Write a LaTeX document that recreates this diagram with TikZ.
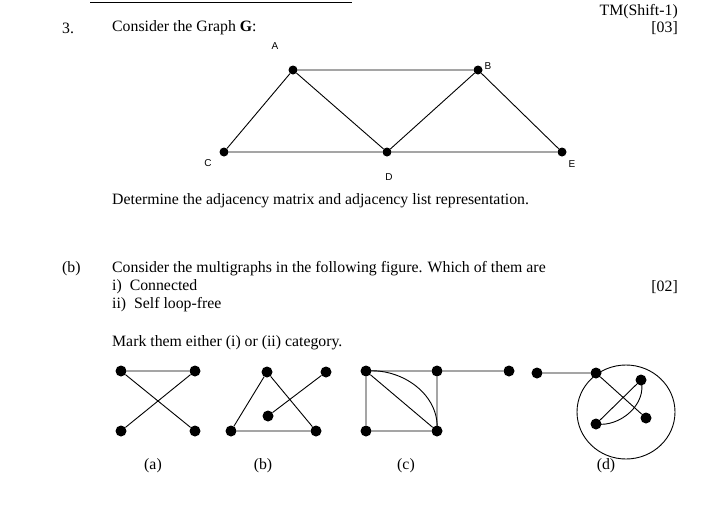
\documentclass[tikz,border=0pt]{standalone}
\usepackage{fontspec}
\usetikzlibrary{shapes.geometric}
\setmainfont{Liberation Serif}
\newfontfamily\lab{Liberation Sans}
\begin{document}
\begin{tikzpicture}[x=1pt,y=-1pt,
 dot/.style={circle,fill=black,inner sep=0pt,minimum size=11pt},
 vd/.style={circle,fill=black,inner sep=0pt,minimum size=9pt},
 txt/.style={anchor=west,inner sep=0pt,font=\fontsize{15.8}{18}\selectfont},
 lbl/.style={inner sep=0pt,font=\lab\fontsize{10}{11}\selectfont},
 ed/.style={line width=0.9pt}]
\useasboundingbox (0,0) rectangle (710,509);
\fill[white] (0,0) rectangle (710,509);
\draw[line width=0.8pt] (90,2) -- (352,2);
\node[txt] (n3) at (62,28) {3.};
\node[txt] (t1) at (112,28) {Consider the Graph \textbf{G}:};
\node[txt,anchor=east] (tm) at (678,12) {TM(Shift-1)};
\node[txt,anchor=east] (m3) at (678,28) {[03]};
% graph G
\node[vd] (A) at (293,70) {}; \node[vd] (B) at (478,70) {};
\node[vd] (C) at (224,152) {}; \node[vd] (D) at (387,152) {};
\node[vd] (E) at (562,152) {};
\node[lbl] (lA) at (275,46) {A}; \node[lbl] (lB) at (488,66) {B};
\node[lbl] (lC) at (208,163) {C}; \node[lbl] (lD) at (389,177) {D};
\node[lbl] (lE) at (572,164) {E};
\draw[ed] (A)--(B) (A)--(C) (A)--(D) (B)--(D) (B)--(E) (C)--(D) (D)--(E);
\node[txt] (det) at (112,201) {Determine the adjacency matrix and adjacency list representation.};
\node[txt] (b) at (62,269) {(b)};
\node[txt] (q1) at (112,269) {Consider the multigraphs in the following figure. Which of them are};
\node[txt] (q2) at (112,287) {i)\ \ Connected};
\node[txt] (q3) at (112,305) {ii)\ \ Self loop-free};
\node[txt,anchor=east] (m2) at (678,287) {[02]};
\node[txt] (q4) at (112,343) {Mark them either (i) or (ii) category.};
% (a)
\node[dot] (a1) at (121,371) {}; \node[dot] (a2) at (195,371) {};
\node[dot] (a3) at (121,431) {}; \node[dot] (a4) at (195,431) {};
\draw[ed] (a1)--(a2) (a1)--(a4) (a2)--(a3);
% (b)
\node[dot] (b1) at (267,372) {}; \node[dot] (b2) at (326,372) {};
\node[dot] (b3) at (268,416) {}; \node[dot] (b4) at (231,431) {};
\node[dot] (b5) at (316,431) {};
\draw[ed] (b1)--(b4) (b1)--(b5) (b4)--(b5) (b3)--(b2);
% (c)
\node[dot] (c1) at (366,371) {}; \node[dot] (c2) at (437,371) {};
\node[dot] (c3) at (366,431) {}; \node[dot] (c4) at (437,431) {};
\node[dot] (c5) at (509,371) {};
\draw[ed] (c1)--(c2) (c2)--(c4) (c3)--(c4) (c1)--(c3) (c1)--(c4) (c2)--(c5);
\draw[ed] (c1.center) to[out=5,in=85] (c4.center);
% (d)
\node[draw,ellipse,minimum width=98pt,minimum height=94pt,line width=0.9pt] (ring) at (626,412) {};
\node[dot] (d0) at (537,373) {}; \node[dot] (d1) at (596,373) {};
\node[dot] (d2) at (641,380) {}; \node[dot] (d3) at (596,424) {};
\node[dot] (d4) at (646,418) {};
\draw[ed] (d0)--(d1) (d1)--(d4) (d2)--(d3);
\draw[ed] (d3.center) to[out=-8,in=-75] (d2.center);
\node[txt,anchor=center] (la) at (153,466) {(a)};
\node[txt,anchor=center] (lb) at (263,466) {(b)};
\node[txt,anchor=center] (lc) at (406,466) {(c)};
\node[txt,anchor=center] (ld) at (606,466) {(d)};
\end{tikzpicture}
\end{document}
